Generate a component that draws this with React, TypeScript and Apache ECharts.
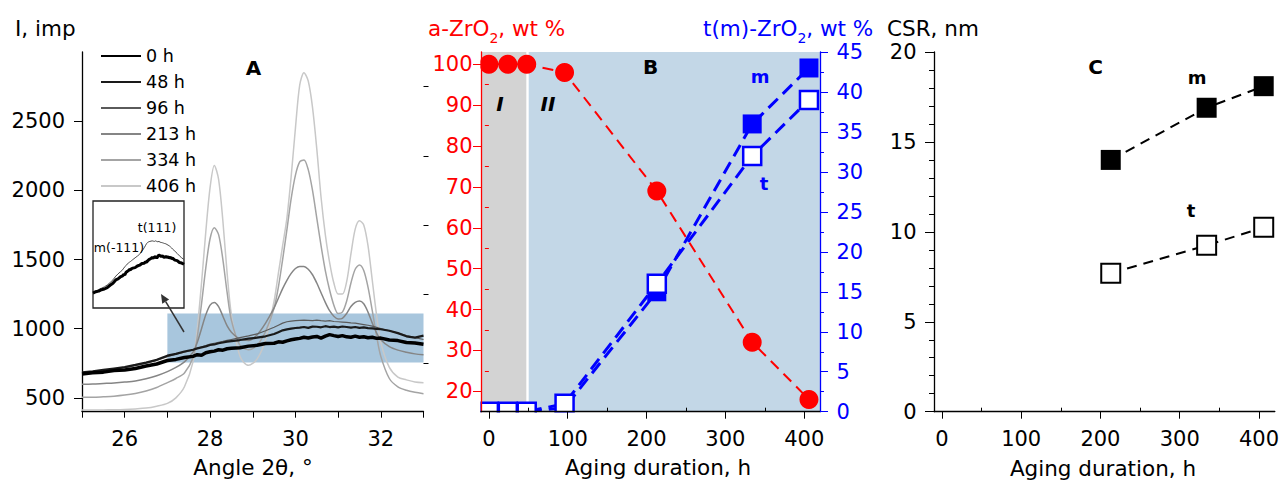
import React, { useEffect, useRef } from 'react';
import * as echarts from 'echarts';

const FONT = 'DejaVu Sans';

// ---------- Panel A : XRD patterns ----------
const angle = [25, 25.25, 25.5, 25.75, 26, 26.25, 26.5, 26.75, 27, 27.2, 27.4, 27.6, 27.7, 27.8, 27.9, 28, 28.1, 28.2, 28.3, 28.4, 28.5, 28.7, 28.9, 29.1, 29.3, 29.5, 29.6, 29.7, 29.8, 29.9, 30, 30.1, 30.2, 30.3, 30.4, 30.5, 30.6, 30.7, 30.8, 30.9, 31, 31.1, 31.2, 31.3, 31.4, 31.5, 31.6, 31.7, 31.8, 31.9, 32, 32.2, 32.4, 32.6, 32.8, 33];
const i0h = [672, 682, 686, 697, 702, 712, 730, 745, 770, 778, 792, 800, 812, 808, 826, 833, 838, 848, 845, 855, 858, 862, 874, 880, 893, 895, 905, 902, 912, 920, 926, 930, 938, 933, 940, 944, 932, 946, 957, 950, 944, 950, 941, 938, 946, 938, 942, 935, 938, 930, 932, 918, 914, 900, 896, 887];
const i48h = [685, 692, 702, 712, 722, 738, 755, 775, 805, 818, 835, 848, 858, 865, 872, 882, 886, 895, 900, 906, 910, 918, 928, 935, 945, 962, 975, 988, 995, 1000, 1005, 1008, 1012, 1006, 1015, 1014, 1010, 1018, 1012, 1015, 1010, 1016, 1012, 1008, 1012, 1006, 1010, 1004, 1002, 998, 996, 985, 968, 945, 935, 950];
const i96h = [680, 688, 698, 708, 718, 732, 750, 770, 798, 815, 830, 845, 858, 868, 878, 888, 895, 902, 908, 915, 922, 935, 948, 962, 985, 1010, 1025, 1040, 1050, 1055, 1058, 1060, 1062, 1060, 1058, 1062, 1058, 1055, 1058, 1052, 1050, 1048, 1045, 1042, 1040, 1035, 1030, 1025, 1018, 1010, 1000, 985, 968, 950, 935, 922];
const i213h = [598, 600, 604, 608, 614, 622, 638, 660, 690, 720, 760, 830, 900, 1000, 1100, 1170, 1190, 1160, 1090, 1020, 975, 925, 915, 955, 1040, 1150, 1220, 1290, 1350, 1400, 1435, 1450, 1450, 1430, 1390, 1330, 1260, 1190, 1130, 1090, 1070, 1075, 1110, 1160, 1190, 1200, 1180, 1120, 1040, 970, 920, 870, 845, 830, 818, 812];
const i334h = [505, 505, 508, 512, 520, 532, 550, 575, 610, 640, 680, 790, 940, 1180, 1440, 1650, 1730, 1680, 1500, 1260, 1060, 880, 848, 880, 980, 1150, 1300, 1500, 1715, 1940, 2110, 2205, 2220, 2150, 2000, 1800, 1600, 1420, 1280, 1170, 1110, 1120, 1200, 1330, 1430, 1460, 1420, 1300, 1130, 950, 800, 640, 580, 555, 540, 530];
const i406h = [412, 412, 413, 414, 416, 420, 426, 440, 460, 500, 580, 760, 1000, 1330, 1700, 2020, 2180, 2080, 1780, 1400, 1100, 800, 735, 780, 920, 1200, 1400, 1600, 1800, 2100, 2450, 2760, 2850, 2790, 2600, 2300, 1950, 1680, 1480, 1330, 1250, 1250, 1340, 1540, 1720, 1780, 1750, 1600, 1350, 1100, 900, 720, 650, 630, 615, 610];
const legendNames = ['0 h', '48 h', '96 h', '213 h', '334 h', '406 h'];
const angleTicks = [25, 26, 27, 28, 29, 30, 31, 32, 33];
const angleLabels = [26, 28, 30, 32];
const intensityLabels = [500, 1000, 1500, 2000, 2500];
const intensityMinor = [750, 1250, 1750, 2250, 2750];

// ---------- Panel B : phase composition ----------
const agingB = [0, 24, 48, 96, 213, 334, 406];
const amorphous = [100, 100, 100, 98, 69, 32, 18];
const monoclinic = [0, 0, 0, 0.5, 15, 36, 43];
const tetragonal = [0, 0, 0, 1, 16, 32, 39];
const redLabels = [20, 30, 40, 50, 60, 70, 80, 90, 100];
const redMinor = [25, 35, 45, 55, 65, 75, 85, 95];
const agingLabels = [0, 100, 200, 300, 400];
const agingMinor = [50, 150, 250, 350];

// ---------- Panel C : CSR ----------
const agingC = [213, 334, 406];
const csrM = [14, 16.9, 18.1];
const csrT = [7.7, 9.25, 10.25];

const pairs = (xs: number[], ys: number[]) => xs.map((x, i) => [x, ys[i]]);

const xrdStyles: Record<string, { color: string; width: number }> = {
  '0 h': { color: '#000000', width: 3.5 },
  '48 h': { color: '#1a1a1a', width: 2.2 },
  '96 h': { color: '#5a5a5a', width: 1.2 },
  '213 h': { color: '#858585', width: 1.5 },
  '334 h': { color: '#a4a4a4', width: 1.5 },
  '406 h': { color: '#c8c8c8', width: 1.5 },
};
const xrdData: Record<string, number[]> = {
  '0 h': i0h, '48 h': i48h, '96 h': i96h, '213 h': i213h, '334 h': i334h, '406 h': i406h,
};

function txt(x: number, y: number, text: string, o: any = {}) {
  const align = o.align || 'center';
  return {
    type: 'text', x, y, z: 20, silent: true,
    style: {
      text, fill: o.color || '#000', fontFamily: FONT, fontSize: o.size || 21,
      fontWeight: o.weight || 'normal', fontStyle: o.fstyle || 'normal',
      align, textAlign: align, verticalAlign: 'middle', textVerticalAlign: 'middle',
    },
  };
}
function subTitle(x: number, y: number, pre: string, post: string, color: string) {
  return {
    type: 'text', x, y, z: 20, silent: true,
    style: {
      text: `{a|${pre}}{s|2}{a|${post}}`,
      align: 'left', textAlign: 'left', verticalAlign: 'middle', textVerticalAlign: 'middle',
      rich: {
        a: { fontFamily: FONT, fontSize: 21.5, fill: color },
        s: { fontFamily: FONT, fontSize: 14, fill: color, padding: [19, 0, 0, 0] },
      },
    },
  };
}

const axisBase = (color = '#000') => ({
  axisLine: { show: true, onZero: false, lineStyle: { color, width: 1.3 } },
  splitLine: { show: false },
});
const plain = (v: number) => String(v);

export default function App() {
  const ref = useRef<HTMLDivElement>(null);
  useEffect(() => {
    document.body.style.margin = '0';
    const chart = echarts.init(ref.current!, null, { renderer: 'svg' });

    const lblStyle = (color = '#000', margin = 17) => ({ color, fontFamily: FONT, fontSize: 21, margin, formatter: plain });

    const xAxis: any[] = [
      { type: 'value', gridIndex: 0, min: 25, max: 33, ...axisBase(),
        axisTick: { customValues: angleTicks, length: 6, lineStyle: { color: '#000' } },
        axisLabel: { customValues: angleLabels, ...lblStyle() } },
      { type: 'value', gridIndex: 1, min: -10, max: 420, z: 10, ...axisBase(),
        axisTick: { customValues: agingLabels, length: 7, lineStyle: { color: '#000' } },
        axisLabel: { customValues: agingLabels, ...lblStyle() } },
      { type: 'value', gridIndex: 1, min: -10, max: 420, z: 10, axisLine: { show: false }, splitLine: { show: false },
        axisTick: { customValues: agingMinor, length: 4, lineStyle: { color: '#000' } }, axisLabel: { show: false } },
      { type: 'value', gridIndex: 2, min: -10, max: 420, ...axisBase(),
        axisTick: { customValues: agingLabels, length: 7, lineStyle: { color: '#000' } },
        axisLabel: { customValues: agingLabels, ...lblStyle() } },
      { type: 'value', gridIndex: 2, min: -10, max: 420, axisLine: { show: false }, splitLine: { show: false },
        axisTick: { customValues: agingMinor, length: 4, lineStyle: { color: '#000' } }, axisLabel: { show: false } },
      { type: 'value', gridIndex: 3, min: 25, max: 33, show: false },
    ];
    const yAxis: any[] = [
      { type: 'value', gridIndex: 0, min: 400, max: 3000, ...axisBase(),
        axisTick: { customValues: intensityLabels, length: 8, lineStyle: { color: '#000' } },
        axisLabel: { customValues: intensityLabels, ...lblStyle('#000', 17) } },
      { type: 'value', gridIndex: 0, min: 400, max: 3000, axisLine: { show: false }, splitLine: { show: false },
        axisTick: { customValues: intensityMinor, length: 5, lineStyle: { color: '#000' } }, axisLabel: { show: false } },
      { type: 'value', gridIndex: 1, position: 'left', min: 15, max: 103, z: 10, ...axisBase('#ff0000'),
        axisTick: { customValues: redLabels, length: 8, lineStyle: { color: '#ff0000' } },
        axisLabel: { customValues: redLabels, ...lblStyle('#ff0000', 8.5) } },
      { type: 'value', gridIndex: 1, position: 'left', min: 15, max: 103, z: 10, axisLine: { show: false }, splitLine: { show: false },
        axisTick: { customValues: redMinor, length: 4, lineStyle: { color: '#ff0000' } }, axisLabel: { show: false } },
      { type: 'value', gridIndex: 1, position: 'right', min: 0, max: 45, interval: 5, z: 10, ...axisBase('#0000ff'),
        axisTick: { length: 8, lineStyle: { color: '#0000ff' } },
        minorTick: { show: true, splitNumber: 2, length: 4, lineStyle: { color: '#0000ff' } },
        axisLabel: { ...lblStyle('#0000ff', 16.5) } },
      { type: 'value', gridIndex: 2, min: 0, max: 20, interval: 5, ...axisBase(),
        axisTick: { length: 9, lineStyle: { color: '#000' } },
        minorTick: { show: true, splitNumber: 5, length: 5, lineStyle: { color: '#000' } },
        axisLabel: { ...lblStyle('#000', 17.5) } },
      { type: 'value', gridIndex: 3, min: 560, max: 1360, show: false },
    ];

    const xrdOrder = ['406 h', '334 h', '213 h', '96 h', '48 h', '0 h'];
    const series: any[] = [
      { type: 'line', name: 'rectA', xAxisIndex: 0, yAxisIndex: 0, data: [], silent: true,
        markArea: { silent: true, itemStyle: { color: '#a8c6dd' }, data: [[{ coord: [27, 1110] }, { coord: [33, 755] }]] } },
      ...xrdOrder.map((n) => ({
        type: 'line', name: n, xAxisIndex: 0, yAxisIndex: 0, data: pairs(angle, xrdData[n]),
        symbol: 'none', smooth: n === '0 h' || n === '48 h' || n === '96 h' ? false : 0.3,
        lineStyle: { color: xrdStyles[n].color, width: xrdStyles[n].width },
        itemStyle: { color: xrdStyles[n].color }, silent: true,
      })),
      { type: 'line', name: 'inset 96 h', xAxisIndex: 5, yAxisIndex: 6, data: pairs(angle, i96h), symbol: 'none',
        lineStyle: { color: '#4a4a4a', width: 1 }, silent: true },
      { type: 'line', name: 'inset 0 h', xAxisIndex: 5, yAxisIndex: 6, data: pairs(angle, i0h), symbol: 'none',
        lineStyle: { color: '#000', width: 3 }, silent: true },
      { type: 'line', name: 'bgB', xAxisIndex: 1, yAxisIndex: 2, data: [], silent: true,
        markArea: { silent: true, data: [
          [{ xAxis: -10, itemStyle: { color: '#d3d3d3' } }, { xAxis: 47.5 }],
          [{ xAxis: 50.5, itemStyle: { color: '#c3d7e7' } }, { xAxis: 420 }],
        ] } },
      { type: 'line', name: 'a-ZrO2', xAxisIndex: 1, yAxisIndex: 2, data: pairs(agingB, amorphous), clip: false,
        symbol: 'circle', symbolSize: 19, itemStyle: { color: '#ff0000' },
        lineStyle: { color: '#ff0000', width: 2, type: [11, 7] }, silent: true },
      { type: 'line', name: 'm-ZrO2', xAxisIndex: 1, yAxisIndex: 4, data: pairs(agingB, monoclinic), clip: false,
        symbol: 'rect', symbolSize: 19, itemStyle: { color: '#0000ff' },
        lineStyle: { color: '#0000ff', width: 3, type: [13, 7] }, silent: true },
      { type: 'line', name: 't-ZrO2', xAxisIndex: 1, yAxisIndex: 4, data: pairs(agingB, tetragonal), clip: false,
        symbol: 'rect', symbolSize: 18, itemStyle: { color: '#ffffff', borderColor: '#0000ff', borderWidth: 2.5 },
        lineStyle: { color: '#0000ff', width: 3, type: [13, 7] }, silent: true },
      { type: 'line', name: 'CSR m', xAxisIndex: 3, yAxisIndex: 5, data: pairs(agingC, csrM),
        symbol: 'rect', symbolSize: 20, itemStyle: { color: '#000' },
        lineStyle: { color: '#000', width: 2, type: [10, 7] }, silent: true },
      { type: 'line', name: 'CSR t', xAxisIndex: 3, yAxisIndex: 5, data: pairs(agingC, csrT),
        symbol: 'rect', symbolSize: 19, itemStyle: { color: '#fff', borderColor: '#000', borderWidth: 2 },
        lineStyle: { color: '#000', width: 2, type: [10, 7] }, silent: true },
    ];

    const graphic: any[] = [
      // overlays that clip the panel B markers at the axes
      { type: 'rect', z: 5, silent: true, shape: { x: 466, y: 412.4, width: 364, height: 14 }, style: { fill: '#fff' } },
      { type: 'rect', z: 5, silent: true, shape: { x: 466, y: 40, width: 14.4, height: 380 }, style: { fill: '#fff' } },
      // axis titles
      txt(15, 28, 'I, imp', { align: 'left', size: 21.5 }),
      subTitle(428, 28, 'a-ZrO', ', wt %', '#ff0000'),
      subTitle(703, 28, 't(m)-ZrO', ', wt %', '#0000ff'),
      txt(887, 28, 'CSR, nm', { align: 'left', size: 21.5 }),
      txt(253, 467, 'Angle 2θ, °', { size: 21.5 }),
      txt(658, 467, 'Aging duration, h', { size: 21.5 }),
      txt(1103, 468, 'Aging duration, h', { size: 21.5 }),
      // panel letters and notes
      txt(253.5, 68, 'A', { weight: 'bold', size: 20 }),
      txt(650.5, 67, 'B', { weight: 'bold', size: 20 }),
      txt(1095.5, 67, 'C', { weight: 'bold', size: 20 }),
      txt(500, 104, 'I', { weight: 'bold', fstyle: 'italic', size: 20 }),
      txt(548, 104, 'II', { weight: 'bold', fstyle: 'italic', size: 20 }),
      txt(760, 76, 'm', { weight: 'bold', size: 18, color: '#0000ff' }),
      txt(764, 183, 't', { weight: 'bold', size: 18, color: '#0000ff' }),
      txt(1197, 77, 'm', { weight: 'bold', size: 18 }),
      txt(1191, 210, 't', { weight: 'bold', size: 18 }),
      // inset labels
      txt(157, 227, 't(111)', { size: 12.5 }),
      txt(119, 247, 'm(-111)', { size: 12.5 }),
      // arrow
      { type: 'line', z: 20, silent: true, shape: { x1: 184, y1: 332, x2: 165.7, y2: 301.7 }, style: { stroke: '#333', lineWidth: 1.5 } },
      { type: 'polygon', z: 20, silent: true, shape: { points: [[161, 294], [169.1, 299.6], [162.2, 303.8]] }, style: { fill: '#333' } },
    ];

    chart.setOption({
      animation: false,
      backgroundColor: '#fff',
      textStyle: { fontFamily: FONT },
      grid: [
        { left: 82, top: 52, width: 341.5, height: 359.7 },
        { left: 481, top: 52, width: 339, height: 359.7 },
        { left: 934, top: 52, width: 341, height: 359.7 },
        { left: 93, top: 201, width: 91, height: 107, show: true, backgroundColor: '#fff', borderColor: '#222', borderWidth: 1.3 },
      ],
      legend: {
        data: legendNames, orient: 'vertical', left: 95, top: 42, itemWidth: 40, itemHeight: 12, itemGap: 8,
        selectedMode: false, itemStyle: { opacity: 0 },
        textStyle: { fontFamily: FONT, fontSize: 17.5, color: '#000' },
      },
      xAxis, yAxis, series, graphic,
    });
    return () => chart.dispose();
  }, []);
  return <div ref={ref} style={{ width: 1282, height: 482 }} />;
}
